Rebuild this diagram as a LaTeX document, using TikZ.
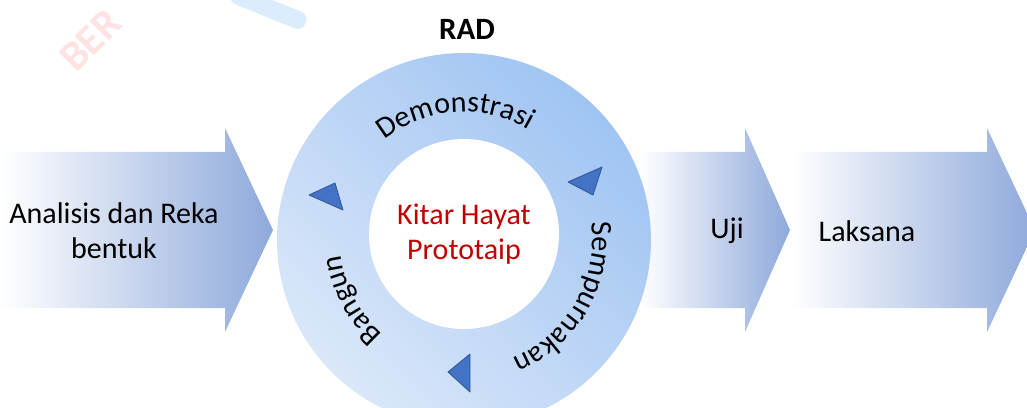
\documentclass[tikz,border=0pt]{standalone}
\usepackage{fontspec}
\setmainfont{Carlito}
\usetikzlibrary{decorations.text}

\definecolor{arrowblue}{RGB}{142,169,219}
\definecolor{ringdark}{RGB}{160,196,242}
\definecolor{ringlight}{RGB}{218,231,249}
\definecolor{headblue}{RGB}{68,114,196}
\definecolor{headedge}{RGB}{47,85,151}
\definecolor{hubred}{RGB}{192,0,0}
\definecolor{smearblue}{RGB}{175,215,248}

\newcommand\ringfont{\fontsize{30}{30}\selectfont}

\tikzset{
phase/.style={left color=white, right color=arrowblue},
phasetext/.style={font=\fontsize{30}{35}\selectfont, align=center, text=black},
turnhead/.style={fill=headblue, draw=headedge, line width=0.8pt, line join=round},
}

\begin{document}
\begin{tikzpicture}[x=1pt,y=1pt]
\useasboundingbox (0,0) rectangle (1027,407);

\node[rotate=45, text=red!70, opacity=0.16, font=\fontsize{42}{42}\selectfont\bfseries, anchor=south west, inner sep=0] (mark1) at (76,333) {BER};
\fill[rotate around={-22:(268,398)}, smearblue, opacity=0.45, rounded corners=8pt] (228,390) rectangle (308,408);

\path[phase] (0,99) -- (225,99) -- (225,75) -- (273,177) -- (225,279) -- (225,255) -- (0,255) -- cycle;
\path[phase] (640,99) -- (745,99) -- (745,75) -- (790,177) -- (745,279) -- (745,255) -- (640,255) -- cycle;
\path[phase] (792,99) -- (987,99) -- (987,75) -- (1035,177) -- (987,279) -- (987,255) -- (792,255) -- cycle;

\node[circle, minimum size=374pt, inner sep=0, top color=ringdark, bottom color=ringlight, shading angle=-45] (ring) at (464,167) {};
\node[circle, minimum size=190pt, inner sep=0, fill=white, text=hubred, font=\fontsize{30}{35}\selectfont, align=center] (hub) at (464,173) {Kitar Hayat\\Prototaip};

\path[decorate, decoration={text along path, text={|\ringfont|Demonstrasi}, text align=center}]
([shift={(154:128)}]ring.center) arc[start angle=154, end angle=34, radius=128];
\path[decorate, decoration={text along path, text={|\ringfont|Sempurnakan}, text align=center}]
([shift={(30:128)}]ring.center) arc[start angle=30, end angle=-90, radius=128];
\path[decorate, decoration={text along path, text={|\ringfont|Bangun}, text align=center}]
([shift={(268:124)}]ring.center) arc[start angle=268, end angle=148, radius=124];

\draw[turnhead] (309,212) -- (335,224) -- (343,197) -- cycle;
\draw[turnhead] (568,225) -- (602,240) -- (593,212) -- cycle;
\draw[turnhead] (448,35) -- (470,53) -- (470,15) -- cycle;

\node[phasetext] (analisis) at (114,176) {Analisis dan Reka\\bentuk};
\node[phasetext] (uji) at (727,176) {Uji};
\node[phasetext] (laksana) at (867,176) {Laksana};
\node[phasetext, font=\fontsize{31}{35}\selectfont\bfseries] (rad) at (467,378) {RAD};

\end{tikzpicture}
\end{document}
